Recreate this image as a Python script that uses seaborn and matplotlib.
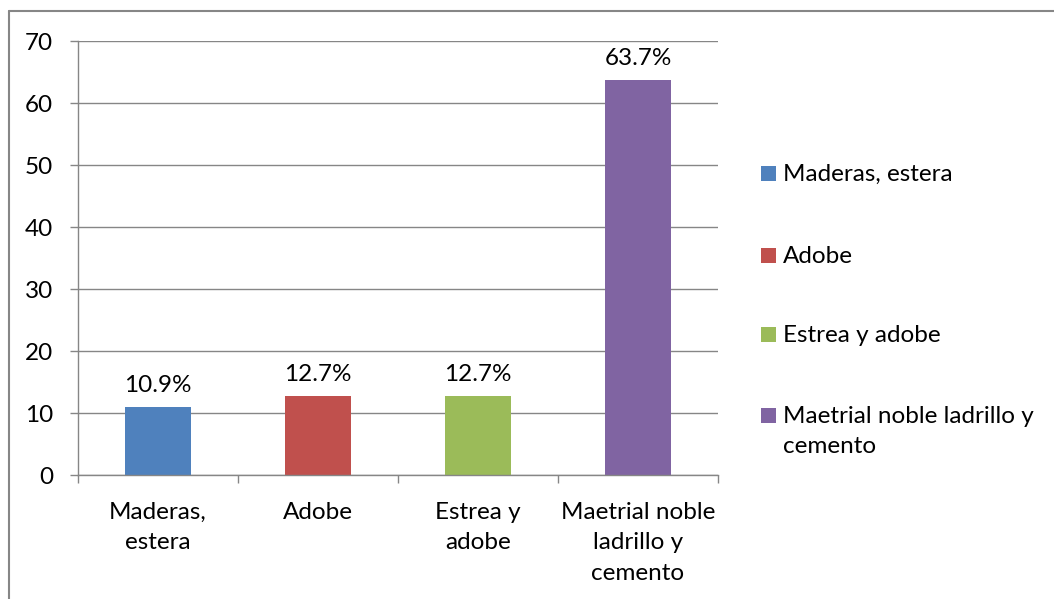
import matplotlib
matplotlib.use("Agg")
import matplotlib.pyplot as plt
import seaborn as sns
from matplotlib.patches import Rectangle
from matplotlib.lines import Line2D
from matplotlib.ticker import FixedLocator

categories = ["Maderas, estera", "Adobe", "Estrea y adobe", "Maetrial noble ladrillo y cemento"]
values = [10.9, 12.7, 12.7, 63.7]
xtick_labels = ["Maderas,\nestera", "Adobe", "Estrea y\nadobe", "Maetrial noble\nladrillo y\ncemento"]
legend_labels = ["Maderas, estera", "Adobe", "Estrea y adobe", "Maetrial noble ladrillo y\ncemento"]
colors = ["#4F81BD", "#C0504D", "#9BBB59", "#8064A2"]
yticks = [0, 10, 20, 30, 40, 50, 60, 70]

sns.set_theme(style="white")
plt.rcParams["font.family"] = ["Lato", "DejaVu Sans"]
FS = 17.5
LS = 1.55
W, H = 1054, 599
fig = plt.figure(figsize=(W / 100, H / 100), dpi=100)
ax = fig.add_axes([78 / W, 1 - 475 / H, (718 - 78) / W, (475 - 41) / H])

sns.barplot(x=categories, y=values, hue=categories, palette=colors, width=0.41,
            legend=False, ax=ax, saturation=1, edgecolor="none")

grid_c = "#868686"
ax.set_ylim(0, 70)
ax.set_xlim(-0.5, 3.5)
ax.set_yticks(yticks)
ax.set_yticklabels([str(t) for t in yticks], fontsize=FS, color="black")
ax.yaxis.grid(True, color=grid_c, linewidth=1.0)
ax.set_axisbelow(True)
ax.set_xticks(range(len(categories)))
ax.set_xticklabels(xtick_labels, fontsize=FS, color="black", linespacing=LS)
ax.xaxis.set_minor_locator(FixedLocator([i - 0.5 for i in range(len(categories) + 1)]))
ax.tick_params(axis="x", which="major", length=0, pad=19.5)
ax.tick_params(axis="x", which="minor", length=6, width=1, color=grid_c, direction="out", bottom=True)
ax.tick_params(axis="y", which="major", length=6, width=1, color=grid_c, direction="out", left=True, pad=12)
for s in ["top", "right"]:
    ax.spines[s].set_visible(False)
for s in ["left", "bottom"]:
    ax.spines[s].set_color(grid_c)
    ax.spines[s].set_linewidth(1.0)
ax.set_xlabel("")
ax.set_ylabel("")

for i, v in enumerate(values):
    ax.annotate(f"{v:.1f}%", (i, v), xytext=(0, 8), textcoords="offset points",
                ha="center", va="bottom", fontsize=FS, color="black")

# legend
leg_y = [174, 256, 335, 416]
for lab, c, y in zip(legend_labels, colors, leg_y):
    fig.add_artist(Rectangle((761 / W, 1 - (y + 7) / H), 15 / W, 15 / H,
                             transform=fig.transFigure, facecolor=c, edgecolor="none"))
    fig.text(783 / W, 1 - (y - 10) / H, lab, fontsize=FS, ha="left", va="top",
             color="black", linespacing=LS)

# chart border
fig.add_artist(Line2D([9 / W, 9 / W], [1 - 11 / H, 0], transform=fig.transFigure, color=grid_c, lw=1.5))
fig.add_artist(Line2D([9 / W, 1], [1 - 11 / H, 1 - 11 / H], transform=fig.transFigure, color=grid_c, lw=1.5))

fig.savefig("out.png", dpi=100)
